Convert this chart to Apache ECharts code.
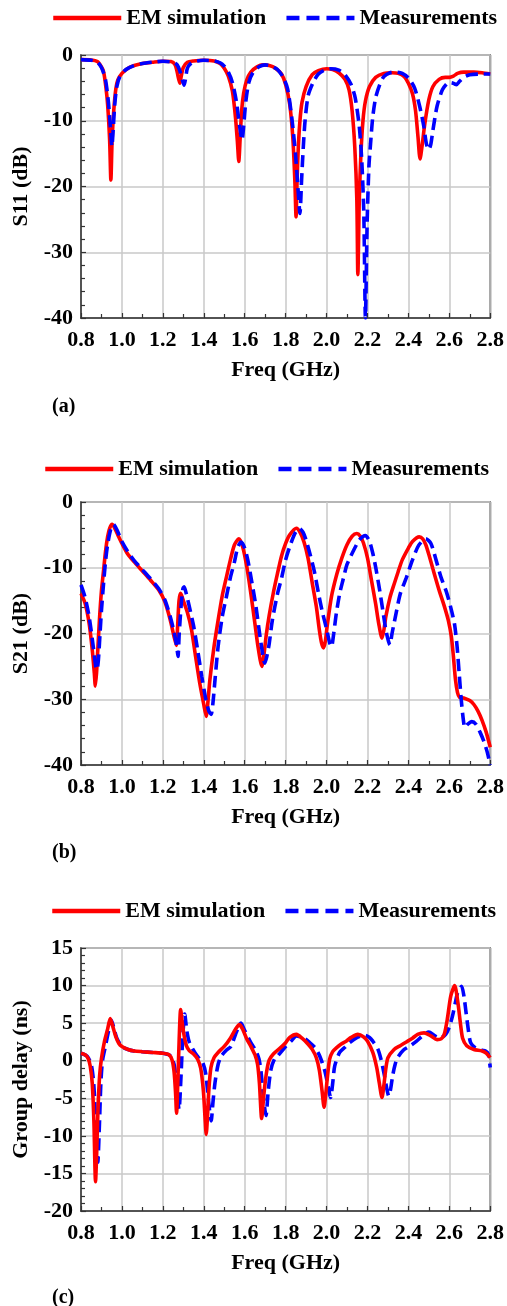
<!DOCTYPE html>
<html>
<head>
<meta charset="utf-8">
<script src="https://cdn.jsdelivr.net/npm/echarts@6/dist/echarts.min.js"></script>
<style>
html,body{margin:0;padding:0;background:#fff;}
#chart{width:507px;height:1306px;}
</style>
</head>
<body>
<div id="chart"></div>
<script>
// ---------- DATA ----------
const seriesNames = ['EM simulation', 'Measurements'];
const panelLabels = ['(a)', '(b)', '(c)'];
const xAxisTitle = 'Freq (GHz)';
const yAxisTitles = ['S11 (dB)', 'S21 (dB)', 'Group delay (ns)'];

// S11 - EM simulation
const s11SimF = [0.80,0.85,0.88,0.90,0.91,0.92,0.93,0.94,0.946,0.952,0.96,0.97,0.98,1.00,1.03,1.06,1.10,1.15,1.20,1.24,1.26,1.27,1.283,1.29,1.30,1.32,1.35,1.40,1.45,1.48,1.50,1.52,1.54,1.555,1.565,1.571,1.578,1.585,1.595,1.61,1.63,1.66,1.69,1.72,1.75,1.78,1.80,1.82,1.835,1.845,1.851,1.856,1.862,1.87,1.88,1.90,1.93,1.96,2.00,2.03,2.06,2.09,2.11,2.125,2.138,2.148,2.153,2.16,2.168,2.178,2.19,2.21,2.24,2.28,2.32,2.35,2.38,2.40,2.42,2.435,2.447,2.457,2.467,2.48,2.50,2.52,2.55,2.58,2.60,2.62,2.64,2.67,2.72,2.76,2.80];
const s11SimV = [-0.7,-0.75,-1.0,-1.8,-2.5,-4.5,-7.5,-13,-19.0,-13,-8.5,-5.2,-3.8,-2.8,-2.0,-1.6,-1.3,-1.1,-0.95,-1.0,-1.5,-2.6,-4.3,-3.2,-1.9,-1.1,-0.9,-0.8,-0.9,-1.3,-2.0,-3.2,-5.5,-9.5,-13.5,-16.2,-12.5,-8.5,-5.8,-3.8,-2.6,-1.8,-1.5,-1.6,-2.0,-2.9,-4.5,-7.5,-12.5,-19,-24.6,-19,-14.0,-10,-7.2,-4.8,-3.0,-2.4,-2.1,-2.2,-2.7,-3.7,-5.3,-8.5,-14,-22,-33.4,-22,-15,-10,-7,-4.8,-3.4,-2.8,-2.7,-2.8,-3.3,-4.3,-5.9,-8.5,-12.5,-15.8,-13.8,-10.5,-6.8,-4.8,-3.7,-3.4,-3.4,-3.2,-2.8,-2.6,-2.6,-2.7,-2.9];
// S11 - Measurements
const s11MeasF = [0.80,0.85,0.88,0.90,0.92,0.935,0.945,0.951,0.957,0.965,0.975,0.99,1.02,1.06,1.10,1.15,1.20,1.25,1.27,1.285,1.297,1.304,1.312,1.32,1.34,1.37,1.40,1.45,1.48,1.50,1.52,1.54,1.56,1.575,1.587,1.595,1.605,1.62,1.64,1.67,1.70,1.73,1.76,1.79,1.81,1.83,1.848,1.862,1.87,1.878,1.886,1.895,1.91,1.934,1.96,1.99,2.02,2.06,2.09,2.12,2.14,2.16,2.172,2.182,2.19,2.198,2.207,2.215,2.226,2.24,2.26,2.28,2.31,2.34,2.37,2.40,2.43,2.455,2.475,2.488,2.50,2.51,2.52,2.54,2.566,2.59,2.61,2.625,2.635,2.65,2.67,2.70,2.75,2.80];
const s11MeasV = [-0.7,-0.8,-1.1,-1.9,-3.8,-7.5,-11.5,-13.9,-11.5,-7.5,-4.8,-3.3,-2.2,-1.6,-1.3,-1.1,-0.95,-1.1,-1.5,-2.6,-4.0,-4.6,-3.4,-2.0,-1.2,-0.9,-0.8,-0.9,-1.2,-1.7,-2.6,-4.2,-7.2,-10.8,-12.9,-10.8,-7.2,-4.2,-2.7,-1.8,-1.5,-1.7,-2.2,-3.5,-5.2,-9.5,-15,-21,-24.1,-19,-14.2,-10,-6.2,-4.2,-2.9,-2.3,-2.1,-2.3,-3.0,-4.5,-6.5,-10.9,-16,-24,-40,-26,-17,-13.5,-9.4,-6.5,-4.5,-3.3,-2.7,-2.6,-2.8,-3.5,-5.0,-7.8,-10.8,-13.5,-14.4,-13.5,-11.4,-7.8,-5.3,-4.3,-4.2,-4.4,-4.5,-4.0,-3.4,-3.0,-2.9,-2.9];

// S21 - EM simulation
const s21SimF = [0.80,0.82,0.84,0.855,0.865,0.870,0.876,0.882,0.89,0.90,0.91,0.92,0.93,0.94,0.952,0.965,0.98,1.00,1.03,1.06,1.10,1.14,1.18,1.21,1.235,1.255,1.266,1.272,1.279,1.287,1.30,1.32,1.34,1.36,1.38,1.40,1.412,1.42,1.43,1.45,1.47,1.49,1.51,1.53,1.55,1.571,1.59,1.61,1.63,1.65,1.665,1.684,1.695,1.705,1.72,1.74,1.76,1.78,1.80,1.82,1.853,1.87,1.89,1.91,1.93,1.95,1.965,1.976,1.986,1.995,2.003,2.024,2.05,2.075,2.10,2.125,2.148,2.165,2.18,2.20,2.22,2.24,2.255,2.271,2.28,2.29,2.31,2.33,2.35,2.37,2.40,2.42,2.453,2.47,2.485,2.50,2.52,2.55,2.575,2.595,2.61,2.62,2.63,2.64,2.65,2.67,2.70,2.72,2.74,2.76,2.78,2.80];
const s21SimV = [-13.9,-15.4,-18.5,-22.5,-26,-28.0,-26,-22.5,-18,-13.5,-10.5,-7.5,-5.3,-4.0,-3.4,-4.0,-5.0,-6.3,-8.0,-9.1,-10.5,-11.9,-13.4,-15.2,-17.8,-20.5,-21.8,-19,-15,-13.9,-15.0,-16.8,-19.4,-23.5,-27.5,-30.8,-32.6,-30.5,-27,-22,-18,-14.3,-11.5,-8.8,-6.5,-5.6,-6.8,-9.8,-13.9,-18.5,-22,-25.0,-23,-20.3,-17.2,-13.8,-10.9,-8.2,-6.3,-5.0,-4.0,-4.6,-6.1,-8.6,-12.3,-15.9,-19.5,-21.5,-22.2,-21,-18.9,-14.4,-11,-8.5,-6.5,-5.2,-4.8,-5.2,-6.2,-8.5,-12.0,-15.5,-18.5,-20.7,-19.5,-17.4,-14.5,-12.5,-10.6,-8.8,-7.0,-6.0,-5.3,-5.6,-6.5,-8.0,-10.2,-13.4,-15.8,-18.0,-20.5,-23.5,-27,-29.0,-29.7,-29.8,-30.2,-30.8,-31.8,-33.2,-35,-37.3];
// S21 - Measurements
const s21MeasF = [0.80,0.82,0.84,0.86,0.872,0.878,0.885,0.893,0.90,0.91,0.92,0.93,0.945,0.959,0.975,1.00,1.03,1.06,1.10,1.14,1.18,1.21,1.235,1.255,1.268,1.274,1.28,1.29,1.298,1.304,1.315,1.33,1.35,1.37,1.39,1.41,1.425,1.436,1.445,1.455,1.47,1.49,1.51,1.53,1.55,1.565,1.582,1.60,1.615,1.635,1.655,1.675,1.69,1.698,1.708,1.72,1.735,1.76,1.78,1.80,1.82,1.845,1.867,1.885,1.90,1.92,1.94,1.96,1.98,2.00,2.015,2.024,2.035,2.048,2.065,2.08,2.10,2.13,2.16,2.19,2.21,2.226,2.24,2.26,2.275,2.29,2.303,2.31,2.32,2.34,2.36,2.39,2.42,2.45,2.485,2.51,2.535,2.56,2.585,2.605,2.625,2.638,2.648,2.658,2.668,2.676,2.69,2.71,2.73,2.75,2.77,2.785,2.80];
const s21MeasV = [-12.6,-14.5,-17.5,-22,-25,-25.5,-24,-20,-16.5,-12.5,-9,-6.5,-4.2,-3.4,-4.2,-6.0,-7.6,-8.9,-10.3,-11.7,-13.2,-14.9,-17.3,-19.8,-22,-23.5,-20,-15.5,-13.2,-12.9,-14,-16,-18.8,-22.5,-26.5,-30,-31.8,-32.3,-30.5,-27,-22,-17.5,-14.5,-11.5,-9.1,-7.0,-6.1,-7.0,-8.8,-12.2,-15.9,-20.5,-23.5,-24.5,-23.5,-21.5,-18,-14,-11.6,-8.8,-6.8,-4.8,-4.0,-4.6,-5.8,-8.0,-10.5,-13.8,-16.8,-19.3,-21.4,-22.0,-20,-16.9,-13.8,-11.9,-9.5,-7.5,-5.8,-5.1,-6.0,-7.8,-9.9,-13.5,-16.5,-19.5,-21.2,-21.7,-20,-16.9,-14,-11.5,-8.8,-6.6,-5.6,-6.3,-8.8,-11.5,-13.6,-15.8,-18.5,-22,-26,-30,-33,-34.3,-33.8,-33.4,-33.8,-35.0,-36.5,-38.0,-40.0];

// Group delay - EM simulation
const gdSimF = [0.80,0.82,0.835,0.845,0.855,0.863,0.871,0.877,0.883,0.891,0.90,0.915,0.93,0.943,0.955,0.97,0.985,1.00,1.03,1.06,1.10,1.15,1.20,1.23,1.245,1.255,1.262,1.267,1.273,1.28,1.287,1.295,1.305,1.315,1.33,1.35,1.37,1.385,1.398,1.406,1.412,1.418,1.425,1.435,1.45,1.47,1.50,1.53,1.555,1.574,1.59,1.61,1.63,1.65,1.663,1.672,1.683,1.692,1.70,1.71,1.72,1.74,1.77,1.80,1.82,1.853,1.88,1.91,1.93,1.95,1.965,1.978,1.988,1.996,2.003,2.015,2.03,2.048,2.07,2.096,2.12,2.153,2.18,2.20,2.226,2.245,2.258,2.271,2.28,2.29,2.30,2.33,2.36,2.39,2.42,2.445,2.477,2.51,2.54,2.56,2.575,2.59,2.607,2.626,2.642,2.655,2.665,2.685,2.72,2.76,2.78,2.80];
const gdSimV = [1.0,0.8,0.3,-0.7,-3.0,-8.0,-16.1,-12,-6.5,-2.0,0.3,2.6,4.2,5.6,4.6,3.2,2.3,1.9,1.5,1.3,1.2,1.1,1.0,0.8,0.1,-1.5,-4.2,-7.0,-3.0,3.0,6.8,5.0,3.2,2.0,1.3,0.9,0.2,-1.0,-4.0,-7.5,-9.8,-7.5,-3.8,-0.9,0.4,1.1,1.9,3.0,4.2,4.8,4.2,2.9,1.9,0.8,-0.5,-3.0,-7.7,-5.0,-2.9,-1.0,0.1,0.9,1.6,2.4,3.1,3.5,3.0,2.2,1.5,0.4,-1.3,-4.0,-6.2,-4.5,-2.5,0.2,1.2,1.7,2.2,2.6,3.1,3.5,3.2,2.6,1.1,-0.9,-3.0,-4.9,-3.3,-1.0,0.4,1.5,2.0,2.5,3.0,3.5,3.7,3.3,2.8,2.9,3.5,5.5,8.6,10.0,7.7,4.8,3.0,2.0,1.5,1.3,1.0,0.4];
// Group delay - Measurements
const gdMeasF = [0.80,0.83,0.85,0.862,0.872,0.882,0.89,0.897,0.905,0.92,0.935,0.948,0.96,0.975,1.00,1.03,1.06,1.10,1.15,1.20,1.235,1.255,1.268,1.279,1.288,1.297,1.307,1.317,1.33,1.356,1.38,1.396,1.41,1.422,1.436,1.445,1.455,1.47,1.485,1.51,1.533,1.555,1.582,1.60,1.63,1.655,1.67,1.68,1.692,1.704,1.715,1.728,1.745,1.76,1.80,1.83,1.853,1.89,1.918,1.945,1.967,1.99,2.005,2.02,2.03,2.04,2.064,2.09,2.112,2.15,2.185,2.21,2.226,2.25,2.266,2.283,2.295,2.304,2.313,2.323,2.335,2.347,2.375,2.404,2.44,2.469,2.50,2.525,2.542,2.56,2.582,2.60,2.615,2.63,2.64,2.66,2.672,2.68,2.692,2.704,2.728,2.76,2.777,2.79,2.80];
const gdMeasV = [1.0,0.6,-0.5,-3.0,-8.0,-13.5,-8.5,-3.0,0.0,2.0,4.0,5.4,4.4,3.0,1.9,1.5,1.3,1.2,1.1,1.0,0.7,-0.5,-3.5,-6.5,-2.5,3.0,6.2,4.0,2.4,1.1,0.2,-0.3,-1.8,-5.0,-8.0,-5.5,-2.9,-0.5,0.6,1.4,1.9,3.5,5.0,4.0,2.4,1.3,0.2,-1.5,-5.0,-7.3,-4.0,-1.2,0.2,0.6,1.9,2.7,3.3,3.0,2.4,1.7,0.6,-1.2,-3.0,-4.9,-3.0,-0.7,1.1,1.8,2.4,3.1,3.4,3.1,2.6,1.6,0.2,-2.0,-3.8,-4.7,-3.8,-2.0,-0.5,0.4,1.4,1.9,2.6,3.3,3.8,3.4,3.1,3.1,3.5,4.5,5.9,7.8,9.0,9.9,8.5,6.8,4.3,2.4,1.7,1.4,1.3,0.9,-0.9];

const xTicks = {min: 0.8, max: 2.8, interval: 0.2};
const yRanges = [
  {min: -40, max: 0, interval: 10},
  {min: -40, max: 0, interval: 10},
  {min: -20, max: 15, interval: 5}
];

// ---------- BUILD ----------
const zip = (f, v) => f.map((x, i) => [x, v[i]]);
const FONT = "'Liberation Serif','Times New Roman',serif";
const RED = '#ff0000', BLUE = '#0000ff';

const gridTops = [55, 502, 948];
const gridH = 263;
const legendLefts = [46, 38, 45];
const legendTops = [2, 453, 895];
const labelTops = [397, 843, 1288];

const grids = [], xAxes = [], yAxes = [], legends = [], titles = [];
for (let i = 0; i < 3; i++) {
  grids.push({left: 81, right: 14, top: gridTops[i], height: gridH, show: true,
    borderColor: '#555', borderWidth: 1.5, backgroundColor: 'transparent'});
  xAxes.push({type: 'value', gridIndex: i, min: xTicks.min, max: xTicks.max, interval: xTicks.interval,
    name: xAxisTitle, nameLocation: 'middle', nameGap: 41,
    nameTextStyle: {fontFamily: FONT, fontWeight: 'bold', fontSize: 22, color: '#000'},
    axisLine: {onZero: false, lineStyle: {color: '#333', width: 1.5}},
    axisTick: {inside: true, length: 5, lineStyle: {color: '#333', width: 1.2}},
    minorTick: {show: true, splitNumber: 2, length: 4, lineStyle: {color: '#333', width: 1.2}},
    axisLabel: {fontFamily: FONT, fontWeight: 'bold', fontSize: 22, color: '#000', margin: 11,
      formatter: v => v.toFixed(1)},
    splitLine: {show: true, lineStyle: {color: '#c8c8c8', width: 1.5}}
  });
  yAxes.push({type: 'value', gridIndex: i, min: yRanges[i].min, max: yRanges[i].max, interval: yRanges[i].interval,
    name: yAxisTitles[i], nameLocation: 'middle', nameGap: 47, nameRotate: 90,
    nameTextStyle: {fontFamily: FONT, fontWeight: 'bold', fontSize: 22, color: '#000'},
    axisLine: {show: true, onZero: false, lineStyle: {color: '#333', width: 1.5}},
    axisTick: {show: true, inside: true, length: 5, lineStyle: {color: '#333', width: 1.2}},
    minorTick: {show: true, splitNumber: 5, length: 4, lineStyle: {color: '#333', width: 1.2}},
    axisLabel: {fontFamily: FONT, fontWeight: 'bold', fontSize: 22, color: '#000', margin: 8},
    splitLine: {show: true, lineStyle: {color: '#c8c8c8', width: 1.5}}
  });
  legends.push({left: legendLefts[i], top: legendTops[i], itemWidth: 68, itemHeight: 14,
    data: [
      {name: seriesNames[0], lineStyle: {width: 4.5, type: 'solid'}},
      {name: seriesNames[1], lineStyle: {width: 4.5, type: [13, 7]}}
    ],
    itemGap: 18, itemStyle: {opacity: 0, borderWidth: 0},
    textStyle: {fontFamily: FONT, fontWeight: 'bold', fontSize: 22, color: '#000'},
    selectedMode: false});
  titles.push({text: panelLabels[i], left: 52, top: labelTops[i], padding: 0,
    textStyle: {fontFamily: FONT, fontWeight: 'bold', fontSize: 20, color: '#000'}});
}

function mk(name, data, idx, color, dashed, z) {
  return {name, type: 'line', xAxisIndex: idx, yAxisIndex: idx, data, symbol: 'none', showSymbol: false,
    smooth: 0.25, z, clip: true,
    lineStyle: {color, width: 3.6, type: dashed ? [12, 6] : 'solid'}, itemStyle: {color}};
}

const series = [
  mk(seriesNames[0], zip(s11SimF, s11SimV), 0, RED, false, 2),
  mk(seriesNames[1], zip(s11MeasF, s11MeasV), 0, BLUE, true, 3),
  mk(seriesNames[0], zip(s21SimF, s21SimV), 1, RED, false, 2),
  mk(seriesNames[1], zip(s21MeasF, s21MeasV), 1, BLUE, true, 3),
  mk(seriesNames[1], zip(gdMeasF, gdMeasV), 2, BLUE, true, 2),
  mk(seriesNames[0], zip(gdSimF, gdSimV), 2, RED, false, 3)
];

const chart = echarts.init(document.getElementById('chart'), null, {renderer: 'canvas'});
chart.setOption({
  animation: false,
  backgroundColor: '#fff',
  title: titles,
  legend: legends,
  grid: grids,
  xAxis: xAxes,
  yAxis: yAxes,
  series
});
</script>
</body>
</html>
